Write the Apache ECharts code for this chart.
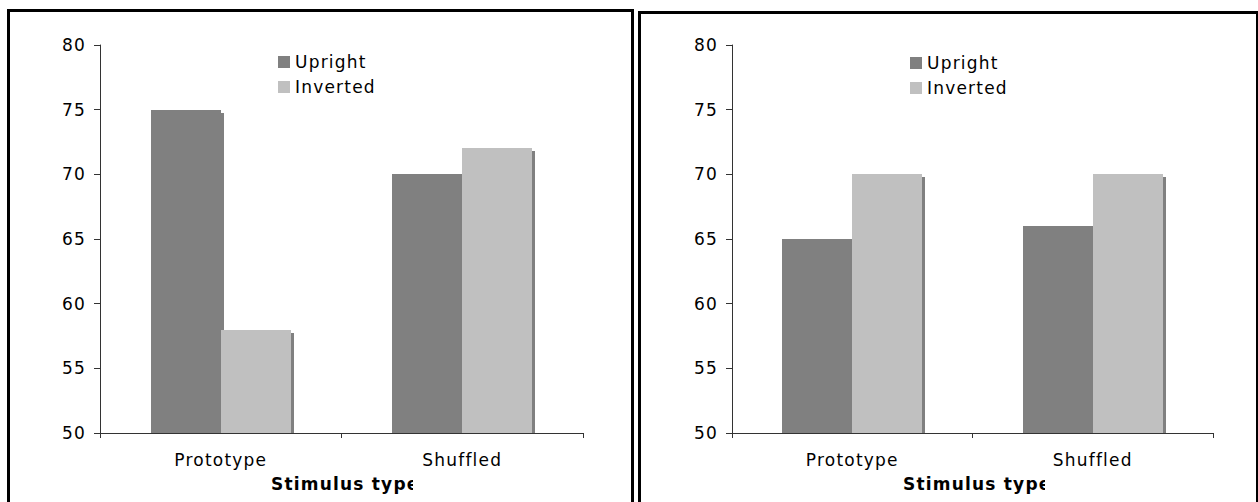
<!DOCTYPE html>
<html>
<head>
<meta charset="utf-8">
<script src="https://cdn.jsdelivr.net/npm/echarts@6/dist/echarts.min.js"></script>
<style>
  html, body { margin: 0; padding: 0; background: #fff; }
  #chart { width: 1258px; height: 502px; }
  /* wide tracking on every label */
  #chart text { letter-spacing: 1.2px; }
</style>
</head>
<body>
<div id="chart"></div>
<script>
// ---- data ----
const categories = ['Prototype', 'Shuffled'];
const seriesNames = ['Upright', 'Inverted'];
const leftUpright = [75, 70];
const leftInverted = [58, 72];
const rightUpright = [65, 66];
const rightInverted = [70, 70];
const yMin = 50;
const yMax = 80;
const yStep = 5;
const axisTitle = 'Stimulus type';

// ---- style ----
const COLORS = ['#808080', '#c0c0c0'];
const SHADOW = '#808080';
const FONT = '"DejaVu Sans", Verdana, sans-serif';
const AXIS_COLOR = '#333';

// Bar with a drop shadow that stays above the category axis
function barRenderer(slot) {
  return function (params, api) {
    const cat = api.value(0);
    const val = api.value(1);
    const base = api.coord([cat, yMin]);
    const top = api.coord([cat, val]);
    const w = Math.round(api.size([1, 0])[0] * 0.29);
    const x = Math.round(base[0]) - w + slot * w;
    const y = Math.round(top[1]);
    const h = Math.round(base[1]) - y;
    return {
      type: 'group',
      children: [
        { type: 'rect', shape: { x: x + 3, y: y + 3, width: w, height: h - 3 }, style: { fill: SHADOW } },
        { type: 'rect', shape: { x: x, y: y, width: w, height: h }, style: { fill: COLORS[slot] } }
      ]
    };
  };
}

function pairs(values) {
  return values.map((v, i) => [i, v]);
}

function xAxis(gridIndex) {
  return {
    type: 'category', gridIndex, data: categories,
    axisLine: { lineStyle: { color: AXIS_COLOR, width: 1 } },
    axisTick: { show: true, length: 5, lineStyle: { color: AXIS_COLOR } },
    axisLabel: { color: '#000', fontFamily: FONT, fontSize: 17, margin: 18 },
    splitLine: { show: false }
  };
}

function yAxis(gridIndex) {
  return {
    type: 'value', gridIndex, min: yMin, max: yMax, interval: yStep,
    axisLine: { show: true, lineStyle: { color: AXIS_COLOR, width: 1 } },
    axisTick: { show: true, length: 6, lineStyle: { color: AXIS_COLOR } },
    axisLabel: { color: '#000', fontFamily: FONT, fontSize: 17, margin: 14 },
    splitLine: { show: false }
  };
}

function legend(left, top) {
  return {
    orient: 'vertical', left, top, padding: 0,
    itemWidth: 12, itemHeight: 12, itemGap: 5, icon: 'rect',
    selectedMode: false,
    data: seriesNames.slice(),
    textStyle: { color: '#000', fontFamily: FONT, fontSize: 17, lineHeight: 20, padding: [0, 0, 0, 0] }
  };
}

function barSeries(name, slot, values, gridIdx) {
  return {
    type: 'custom', name, xAxisIndex: gridIdx, yAxisIndex: gridIdx,
    itemStyle: { color: COLORS[slot] },
    renderItem: barRenderer(slot),
    encode: { x: 0, y: 1 },
    data: pairs(values)
  };
}

const titleOffset = 171;   // title start, from the value axis
const titleClip = 142;     // visible width of the title box
const gridLefts = [100, 732];

const graphics = [
  { type: 'rect', left: 6, top: 8, shape: { width: 624, height: 600 }, style: { fill: 'none', stroke: '#000', lineWidth: 3 } },
  { type: 'rect', left: 637, top: 10, shape: { width: 618, height: 600 }, style: { fill: 'none', stroke: '#000', lineWidth: 3 } }
];
gridLefts.forEach(gl => {
  graphics.push({
    type: 'text', x: gl + titleOffset, y: 484, z: 10,
    style: { text: axisTitle, font: 'bold 17px ' + FONT, fill: '#000', textAlign: 'left', textVerticalAlign: 'middle' }
  });
  // the title box is narrower than its text, so its tail is cut off
  graphics.push({
    type: 'rect', z: 11,
    shape: { x: gl + titleOffset + titleClip, y: 470, width: 40, height: 28 },
    style: { fill: '#fff' }
  });
});

const chart = echarts.init(document.getElementById('chart'), null, { renderer: 'svg' });
chart.setOption({
  animation: false,
  backgroundColor: '#fff',
  grid: [
    { left: 100, right: 1258 - 583, top: 45, bottom: 502 - 433 },
    { left: 732, right: 1258 - 1213, top: 45, bottom: 502 - 433 }
  ],
  xAxis: [xAxis(0), xAxis(1)],
  yAxis: [yAxis(0), yAxis(1)],
  legend: [legend(278, 52), legend(910, 53)],
  series: [
    barSeries(seriesNames[0], 0, leftUpright, 0),
    barSeries(seriesNames[1], 1, leftInverted, 0),
    barSeries(seriesNames[0], 0, rightUpright, 1),
    barSeries(seriesNames[1], 1, rightInverted, 1)
  ],
  graphic: graphics
});
</script>
</body>
</html>
